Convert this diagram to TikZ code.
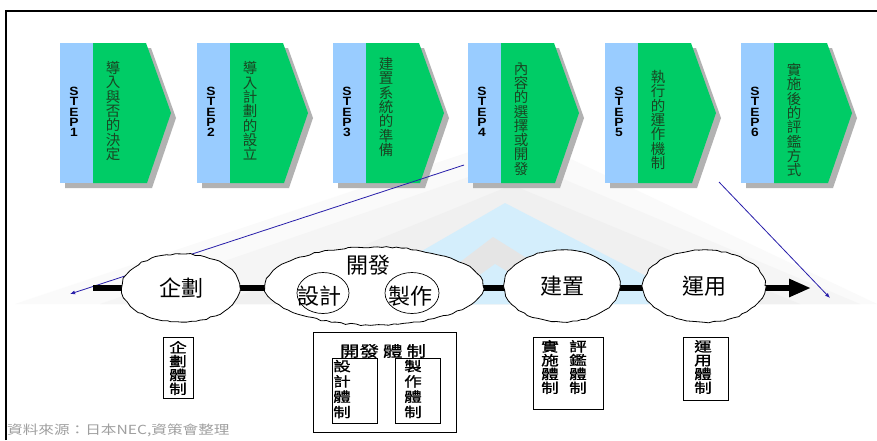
\documentclass[tikz,border=0pt]{standalone}
\usepackage{fontspec}
\setmainfont{Liberation Sans}
\newfontfamily\steplblfont[FakeStretch=1.15]{Liberation Sans}
\newfontfamily\cjk{Noto Sans CJK TC}
\newfontfamily\cjkw[FakeStretch=1.3,FakeBold=1.2]{Noto Sans CJK TC}
\newfontfamily\cjks[FakeStretch=1.25]{Noto Sans CJK TC}
\usetikzlibrary{arrows.meta,shapes.geometric,decorations.pathmorphing}
\definecolor{stepblue}{RGB}{153,204,255}
\definecolor{stepgreen}{RGB}{0,204,102}
\definecolor{steptext}{RGB}{25,70,35}
\definecolor{linkblue}{RGB}{40,30,170}
\definecolor{roofblue}{RGB}{212,238,252}
\tikzset{
  stepshape/.style={fill=stepgreen},
  stepstrip/.style={fill=stepblue},
  stepshadow/.style={fill=gray!60},
  steptxt/.style={font=\cjk\fontsize{14.5}{14.3}\selectfont, text=steptext, align=center, inner sep=0pt},
  steplbl/.style={font=\steplblfont\bfseries\fontsize{12}{10.4}\selectfont, align=center, inner sep=0pt},
  phase/.style={ellipse, draw, line width=0.8pt, fill=white, inner sep=0pt,
    font=\cjk\fontsize{22}{22}\selectfont,
    decorate, decoration={random steps, segment length=5pt, amplitude=0.8pt}},
  subphase/.style={ellipse, draw, line width=0.7pt, inner sep=0pt},
  phasetxt/.style={font=\cjk\fontsize{22}{22}\selectfont, inner sep=0pt},
  chainbar/.style={line width=6pt},
  link/.style={draw=linkblue, line width=0.8pt, -{Latex[length=5pt,width=4pt]}},
  orgbox/.style={draw, line width=0.8pt, inner sep=0pt},
  orgtxt/.style={font=\cjkw\fontsize{13.5}{13.8}\selectfont, align=center, inner sep=0pt},
  orgtxtb/.style={font=\cjkw\fontsize{13.5}{15.3}\selectfont, align=center, inner sep=0pt},
}
\pgfmathsetseed{3}
\begin{document}
\begin{tikzpicture}[x=1pt,y=-1pt]
\useasboundingbox (0,0) rectangle (877,440);
\fill[white] (0,0) rectangle (877,440);
% background roof
\fill[gray!4]  (15,304) -- (520,135) -- (877,304) -- cycle;
\fill[gray!8] (100,304) -- (518,160) -- (860,304) -- cycle;
\fill[gray!12] (220,304) -- (512,185) -- (800,304) -- cycle;
\fill[roofblue] (330,304) -- (505,203) -- (700,304) -- cycle;
\fill[gray!20] (405,304) -- (493,237) -- (600,304) -- cycle;
\fill[roofblue] (440,304) -- (495,264) -- (560,304) -- cycle;
% frame
\draw[line width=1.5pt] (6,440) -- (6,11) -- (877,11);
% steps
\foreach \n/\xl/\ty/\txt in {
  1/60/111/{導\\入\\與\\否\\的\\決\\定},
  2/197/111/{導\\入\\計\\劃\\的\\設\\立},
  3/333/107/{建\\置\\系\\統\\的\\準\\備},
  4/468/119/{內\\容\\的\\選\\擇\\或\\開\\發},
  5/605/120/{執\\行\\的\\運\\作\\機\\制},
  6/741/120/{實\\施\\後\\的\\評\\鑑\\方\\式}}{
  \fill[stepshadow] (\xl+5,48) -- (\xl+91,48) -- (\xl+116,118) -- (\xl+92,188) -- (\xl+5,188) -- cycle;
  \fill[stepstrip] (\xl,43) rectangle (\xl+33,183);
  \fill[stepshape] (\xl+33,43) -- (\xl+86,43) -- (\xl+111,113) -- (\xl+87,183) -- (\xl+33,183) -- cycle;
  \node[steplbl] (lbl\n) at (\xl+14,112) {S\\T\\E\\P\\\n};
  \node[steptxt] (step\n) at (\xl+53,\ty) {\txt};
}
% links
\coordinate (l1s) at (464,165);
\coordinate (l1e) at (70,294);
\coordinate (l2s) at (719,182);
\coordinate (l2e) at (830,298);
\draw[link] (l1s) -- (l1e);
\draw[link] (l2s) -- (l2e);
% chain
\coordinate (cstart) at (93,288);
\coordinate (ckik) at (181,288);
\coordinate (ckai) at (374,288);
\coordinate (cken) at (562,288);
\coordinate (cuny) at (704,288);
\coordinate (ctip) at (811,288);
\draw[chainbar] (cstart) -- (ckik) -- (ckai) -- (cken) -- (cuny);
\draw[chainbar,-{Triangle[length=22pt,width=17pt]}] (cuny) -- (ctip);
\node[phase, minimum width=118pt, minimum height=68pt] (kikaku) at (ckik) {企劃};
\node[phase, minimum width=218pt, minimum height=78pt] (kaihatsu) at (374,286) {};
\node[phase, minimum width=116pt, minimum height=72pt] (kenchi) at (562,286) {建置};
\node[phase, minimum width=122pt, minimum height=72pt] (unyo) at (704,286) {運用};
\node[phasetxt] (kaitxt) at (368,265) {開發};
\node[subphase, minimum width=52pt, minimum height=41pt] (sekkeic) at (323,293) {};
\node[subphase, minimum width=54pt, minimum height=41pt] (seisakuc) at (412,293) {};
\node[phasetxt] (sekkei) at (319,296) {設計};
\node[phasetxt] (seisaku) at (410,296) {製作};
% organisation boxes
\node[orgbox, minimum width=30pt, minimum height=61pt] (bk) at (178,367.5) {};
\node[orgtxt] (tk) at (178,368) {企\\劃\\體\\制};
\node[orgbox, minimum width=143pt, minimum height=100pt] (bd) at (384.5,382) {};
\node[font=\cjkw\fontsize{15}{15}\selectfont, inner sep=0pt] (td) at (383,351) {開發\hspace{4pt}體\hspace{4pt}制};
\node[orgbox, minimum width=45pt, minimum height=65pt] (bs) at (354.5,390.5) {};
\node[orgtxtb] (ts) at (342,389) {設\\計\\體\\制};
\node[orgbox, minimum width=45pt, minimum height=65pt] (bm) at (417.5,390.5) {};
\node[orgtxtb] (tm) at (413,389) {製\\作\\體\\制};
\node[orgbox, minimum width=70pt, minimum height=72pt] (be) at (568,373) {};
\node[orgtxt] (te1) at (550,367) {實\\施\\體\\制};
\node[orgtxt] (te2) at (578,367) {評\\鑑\\體\\制};
\node[orgbox, minimum width=45pt, minimum height=63pt] (bu) at (705.5,368.5) {};
\node[orgtxt] (tu) at (703,367) {運\\用\\體\\制};
% source
\node[anchor=west, font=\cjks\fontsize{12.5}{12.5}\selectfont, text=gray!75, inner sep=0pt] (src) at (7,430) {資料來源：日本NEC,資策會整理};
\end{tikzpicture}
\end{document}
